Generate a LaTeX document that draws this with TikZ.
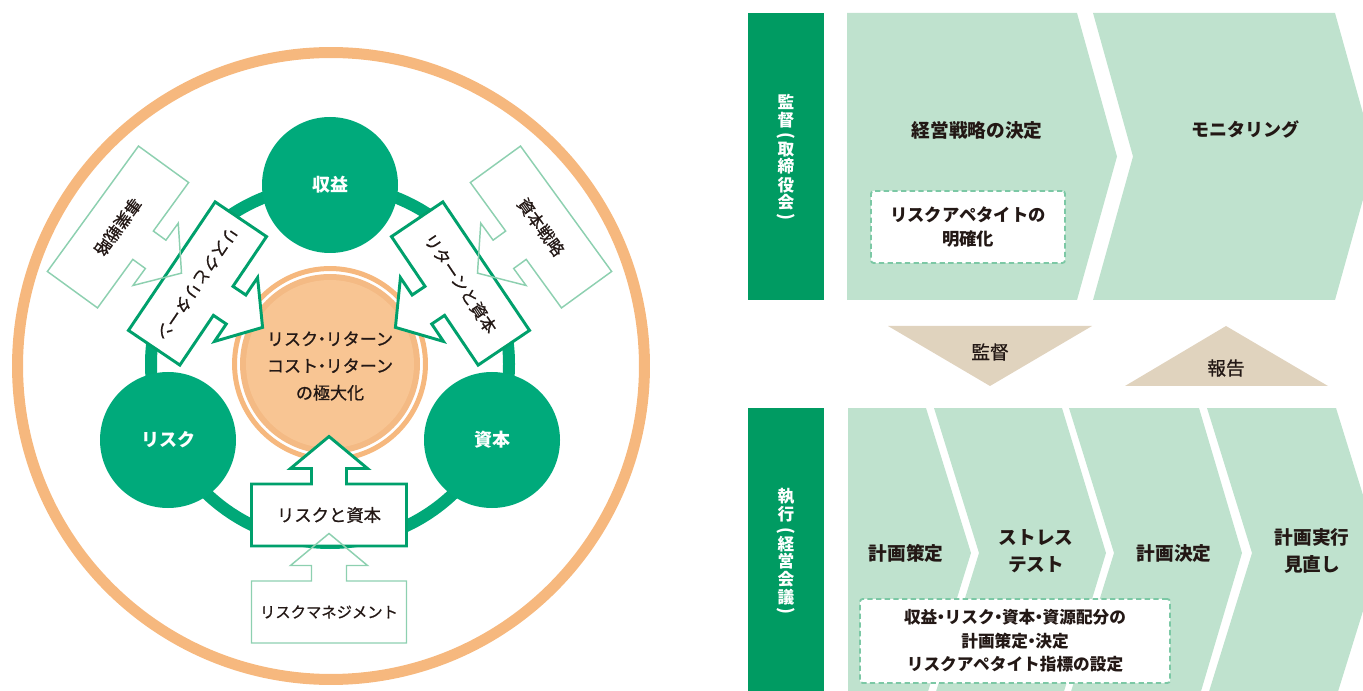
\documentclass[tikz,border=0pt]{standalone}
\usepackage{fontspec}
\setmainfont{Noto Sans CJK JP}
\newfontfamily\jpmed{Noto Sans CJK JP}[FakeBold=0.8]
\newcommand\ndot{\kern-.28em・\kern-.28em}
\definecolor{ringg}{HTML}{00A878}
\definecolor{circg}{HTML}{00AA7B}
\definecolor{argreen}{HTML}{00A06C}
\definecolor{ltgreen}{HTML}{8DD0B0}
\definecolor{orring}{HTML}{F6B87E}
\definecolor{ordisc}{HTML}{F8C593}
\definecolor{ordiscb}{HTML}{F4BA84}
\definecolor{barg}{HTML}{009B62}
\definecolor{panelg}{HTML}{BFE2CE}
\definecolor{beige}{HTML}{E0D3BE}
\definecolor{txt}{HTML}{231815}
\definecolor{dashg}{HTML}{7CC8A5}
\tikzset{
  blockarrow/.pic={
    \path[pic actions] (-77.5,31) -- (77.5,31) -- (77.5,-31) -- (17.5,-31) -- (17.5,-46.5)
      -- (38.5,-46.5) -- (0,-78.5) -- (-38.5,-46.5) -- (-17.5,-46.5) -- (-17.5,-31)
      -- (-77.5,-31) -- cycle;
  },
  darrow/.style={draw=argreen, fill=white, line width=2.2pt},
  larrow/.style={draw=ltgreen, line width=1.1pt},
  gcirc/.style={circle, fill=circg, minimum size=102pt, inner sep=0pt, text=white,
    font=\bfseries\fontsize{13.5}{16}\selectfont},
  ltext/.style={text=txt, inner sep=0pt, font=\jpmed\fontsize{12.5}{15}\selectfont},
  ctext/.style={text=txt, inner sep=0pt, align=center, font=\jpmed\fontsize{12.8}{20.2}\selectfont},
  rtext/.style={text=txt, inner sep=0pt, align=center, font=\bfseries\fontsize{14}{20}\selectfont},
  vchar/.style={text=white, inner sep=0pt, font=\bfseries\fontsize{12.5}{13}\selectfont},
  vparen/.style={text=white, inner sep=0pt, rotate=-90, font=\bfseries\fontsize{13}{13}\selectfont},
  dbox/.style={draw=dashg, line width=1.4pt, dash pattern=on 4pt off 2.5pt, fill=white,
    rounded corners=2pt, align=center, text=txt, inner sep=0pt},
  trtext/.style={text=txt, inner sep=0pt, font=\jpmed\fontsize{14}{16}\selectfont},
}
\begin{document}
\begin{tikzpicture}[x=0.75pt,y=-0.75pt,line join=miter]
\useasboundingbox (0,0) rectangle (1363,691);
\clip (0,0) rectangle (1363,691);
% ===== left diagram =====
\draw[orring, line width=8.25pt] (331,366) circle[radius=235.1pt];
\draw[ringg, line width=9pt] (330,364) circle[radius=134.25pt];
\node[gcirc] (shueki) at (330,185) {収益};
\node[gcirc] (risk) at (168,440) {リスク};
\node[gcirc] (shihon) at (492,440) {資本};
\draw[orring, line width=3.75pt] (330,364) circle[radius=71.6pt];
\fill[ordiscb] (330,364) circle[radius=67.5pt];
\fill[ordisc] (330,364) circle[radius=63pt];
\node[ctext] (goal) at (330,366) {リスク\ndot リターン\\コスト\ndot リターン\\の極大化};
% dark arrows
\pic[darrow, rotate=-124] at (197.5,283.5) {blockarrow};
\pic[darrow, rotate=124] at (460.5,283.5) {blockarrow};
\pic[darrow] at (329,515) {blockarrow};
\node[ltext, rotate=-124] (rr) at (197.5,283.5) {リスクとリターン};
\node[ltext, rotate=-56] (rc) at (460.5,283.5) {リターンと資本};
\node[ltext, font=\jpmed\fontsize{13}{15}\selectfont] (rk) at (329,515) {リスクと資本};
% light arrows
\pic[larrow, rotate=-126] at (118,227) {blockarrow};
\pic[larrow, rotate=126] at (541,227) {blockarrow};
\pic[larrow] at (329,612) {blockarrow};
\node[ltext, rotate=-126] (js) at (118,227) {事業戦略};
\node[ltext, rotate=-54] (ss) at (541,227) {資本戦略};
\node[ltext, font=\jpmed\fontsize{11.5}{14}\selectfont] (rm) at (329,612) {リスクマネジメント};
% ===== right diagram =====
\fill[barg] (748,13) rectangle (824,300);
\fill[barg] (748,408) rectangle (824,700);
% vertical labels
\foreach \c/\yy [count=\i] in {監/101.5, 督/120, 取/149.5, 締/166.5, 役/185, 会/202.5}
  \node[vchar] (kt\i) at (786,\yy) {\c};
\node[vparen] (ktl) at (786,136) {(};
\node[vparen] (ktr) at (786,216.5) {)};
\foreach \c/\yy [count=\i] in {執/496, 行/514.5, 経/544, 営/561, 会/579.5, 議/597}
  \node[vchar] (sk\i) at (786,\yy) {\c};
\node[vparen] (skl) at (786,530.5) {(};
\node[vparen] (skr) at (786,611) {)};
% top panels
\fill[panelg] (847,13) -- (1077,13) -- (1117,156.5) -- (1077,300) -- (847,300) -- cycle;
\fill[panelg] (1093,13) -- (1335,13) -- (1375,156.5) -- (1335,300) -- (1093,300) -- (1133,156.5) -- cycle;
\node[rtext] (keiei) at (977,130) {経営戦略の決定};
\node[rtext, font=\bfseries\fontsize{13.5}{16}\selectfont] (moni) at (1245,130) {モニタリング};
\node[dbox, minimum width=145.5pt, minimum height=54pt, font=\bfseries\fontsize{13}{18}\selectfont] (ra) at (968,227) {リスクアペタイトの\\明確化};
% triangles
\fill[beige] (888,326) -- (1092,326) -- (990,386) -- cycle;
\fill[beige] (1125,386) -- (1328,386) -- (1226,326) -- cycle;
\node[trtext] (tk) at (990,352) {監督};
\node[trtext] (th) at (1226,368) {報告};
% bottom panels
\fill[panelg] (848,408) -- (926,408) -- (971,553) -- (926,698) -- (848,698) -- cycle;
\fill[panelg] (934,408) -- (1062,408) -- (1106,553) -- (1062,698) -- (934,698) -- (979,553) -- cycle;
\fill[panelg] (1069,408) -- (1199,408) -- (1242,553) -- (1199,698) -- (1069,698) -- (1114,553) -- cycle;
\fill[panelg] (1207,408) -- (1336,408) -- (1381,553) -- (1336,698) -- (1207,698) -- (1252,553) -- cycle;
\node[rtext] (p1) at (906,553) {計画策定};
\node[rtext] (p2) at (1036,551) {ストレス\\テスト};
\node[rtext] (p3) at (1174,553) {計画決定};
\node[rtext] (p4) at (1312,551) {計画実行\\見直し};
\node[dbox, minimum width=232.5pt, minimum height=63pt, font=\bfseries\fontsize{12.5}{17.5}\selectfont] (plan) at (1015,641) {収益\ndot リスク\ndot 資本\ndot 資源配分の\\計画策定\ndot 決定\\リスクアペタイト指標の設定};
\end{tikzpicture}
\end{document}
